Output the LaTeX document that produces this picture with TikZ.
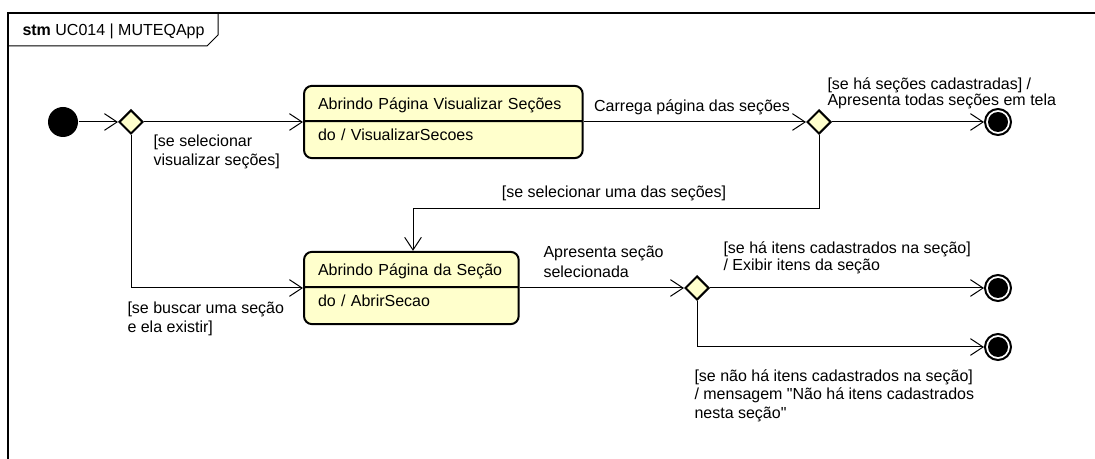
\documentclass[tikz,border=0pt]{standalone}
\usepackage{fontspec}
\setmainfont{Liberation Sans}
\usetikzlibrary{arrows.meta,shapes.geometric,shapes.multipart}
\definecolor{statefill}{RGB}{255,255,204}
\newcommand{\headstrut}{\rule[-3pt]{0pt}{15pt}}
\newcommand{\bodystrut}{\rule[-7.5pt]{0pt}{15pt}}

\begin{document}
\begin{tikzpicture}[
        x=0.75pt, y=-0.75pt,
        font=\fontsize{12}{14.5}\selectfont,
        line width=0.75pt,
        trans/.style={-{Straight Barb[length=9.5pt,width=12.5pt]}},
        state/.style={rectangle split, rectangle split parts=2, draw,
            line width=1.5pt, rounded corners=6pt, fill=statefill,
            inner xsep=10.5pt, inner ysep=5pt, align=left},
        choice/.style={diamond, draw, line width=1.5pt, fill=statefill,
            minimum size=18pt, inner sep=0pt},
        initial/.style={circle, fill, minimum size=22.5pt, inner sep=0pt},
        final/.style={circle, draw, line width=1.5pt, minimum size=19.5pt,
            inner sep=0pt, path picture={
                \fill (path picture bounding box.center) circle[radius=7.5pt];}},
        guard/.style={align=left, inner sep=0pt}
    ]
    \useasboundingbox (0,0) rectangle (1095,459);
    % frame
    \draw[line width=1.2pt] (8,459) -- (8,13) -- (1095,13);
    \draw (8,46) -- (207,46) -- (218,35) -- (218,13);
    \node[anchor=west, inner sep=0pt] (title) at (22,31)
        {\textbf{stm} UC014 | MUTEQApp};

    % states
    \node[initial] (init) at (63,122) {};
    \node[choice] (c1) at (131,122) {};
    \node[state, text width=188pt, anchor=west] (visualizar) at (303,122)
        {\headstrut Abrindo Página Visualizar Seções
         \nodepart{two}\bodystrut do / VisualizarSecoes};
    \node[choice] (c2) at (819,122) {};
    \node[state, text width=140pt, anchor=west] (secao) at (303,288)
        {\headstrut Abrindo Página da Seção
         \nodepart{two}\bodystrut do / AbrirSecao};
    \node[choice] (c3) at (697,288) {};
    \foreach \n/\p in {f1/{998,122}, f2/{998,288}, f3/{998,347}}
        \node[final] (\n) at (\p) {};
    \coordinate (back) at (413,209);

    % transitions
    \foreach \a/\b in {init/c1, c1/visualizar, visualizar/c2, c2/f1,
                       secao/c3, c3/f2}
        \draw[trans] (\a) -- (\b);
    \draw[trans] (c1) |- (secao);
    \draw[trans] (c2) |- (back) -- (back |- secao.north);
    \draw[trans] (c3) |- (f3);

    % guards
    \node[guard, anchor=north west] (g1) at (153,134)
        {[se selecionar\\visualizar seções]};
    \node[anchor=base] (g2) at (692,112) {Carrega página das seções};
    \node[guard, anchor=north west, font=\fontsize{12}{12}\selectfont] (g3)
        at (827,77) {[se há seções cadastradas] /\\Apresenta todas seções em tela};
    \node[anchor=base] (g4) at (614,198) {[se selecionar uma das seções]};
    \node[guard, anchor=north west] (g5) at (127,301)
        {[se buscar uma seção\\e ela existir]};
    \node[guard, anchor=north west, font=\fontsize{12}{15}\selectfont] (g6)
        at (543,246) {Apresenta seção\\selecionada};
    \node[guard, anchor=north west, font=\fontsize{12}{12.75}\selectfont] (g7)
        at (723,241) {[se há itens cadastrados na seção]\\/ Exibir itens da seção};
    \node[guard, anchor=north west, font=\fontsize{12}{14}\selectfont] (g8)
        at (694,369) {[se não há itens cadastrados na seção]\\/ mensagem
        \textquotedbl Não há itens cadastrados\\nesta seção\textquotedbl};
\end{tikzpicture}
\end{document}
